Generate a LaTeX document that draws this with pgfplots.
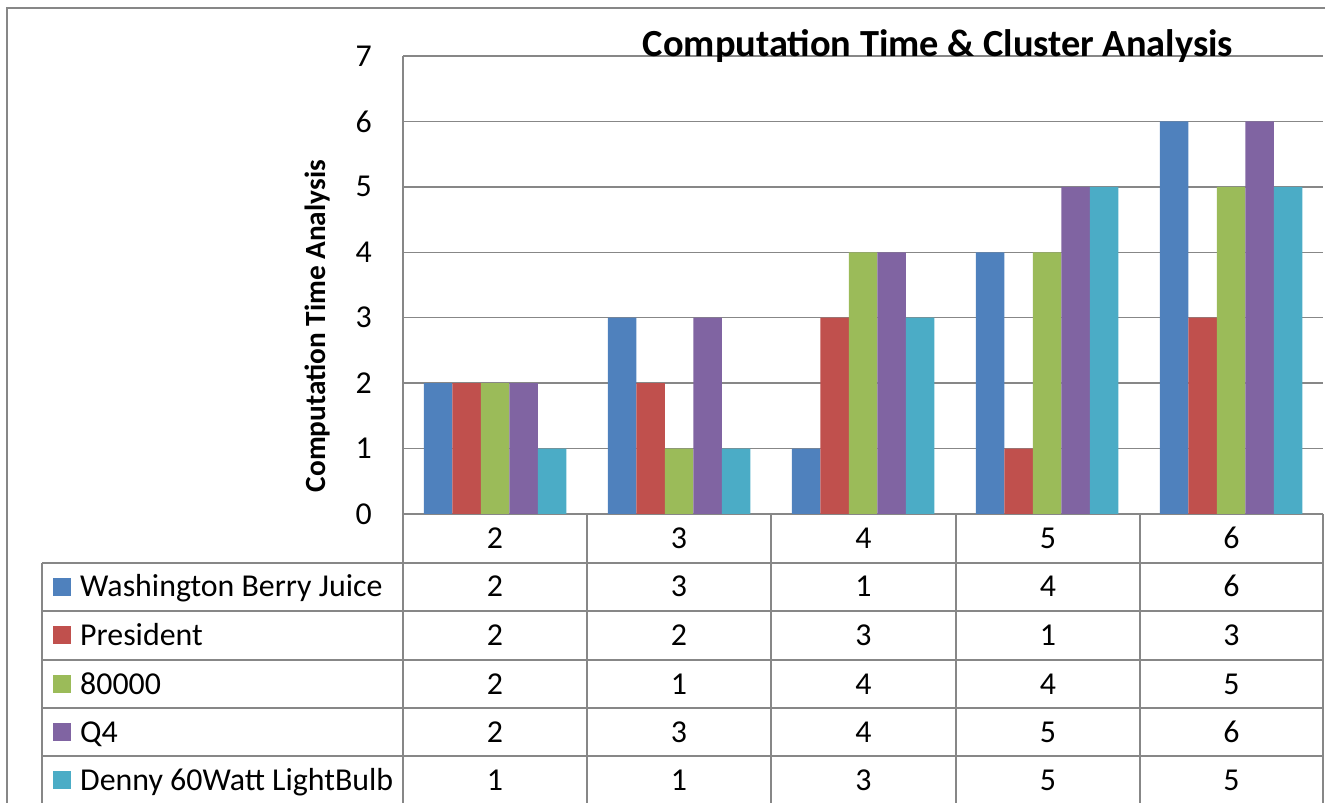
\documentclass[border=0pt]{standalone}
\usepackage{fontspec}
\setmainfont{Carlito}
\usepackage{pgfplots}
\pgfplotsset{compat=1.18}
\definecolor{s1}{HTML}{4F81BD}
\definecolor{s2}{HTML}{C0504D}
\definecolor{s3}{HTML}{9BBB59}
\definecolor{s4}{HTML}{8064A2}
\definecolor{s5}{HTML}{4BACC6}
\definecolor{gridc}{HTML}{878787}
\newcommand{\tf}{\fontsize{32}{38}\selectfont}
\begin{document}
\begin{tikzpicture}[x=1bp,y=1bp]
\path[use as bounding box] (0,0) rectangle (1325,802);
% outer frame (cut at right and bottom)
\draw[gridc, line width=1.5bp] (7,-5) -- (7,794) -- (1330,794);
\begin{axis}[
  at={(403bp,288bp)}, anchor=south west,
  scale only axis, width=920bp, height=458bp,
  xmin=-0.5, xmax=4.5, ymin=0, ymax=7,
  ybar=0pt, bar width=28.5bp,
  xtick=\empty, ytick={0,1,2,3,4,5,6,7},
  major tick length=0pt,
  ymajorgrids, grid style={gridc, line width=1.5bp},
  separate axis lines,
  axis x line*=bottom, axis y line*=left,
  axis line style={gridc, line width=1.5bp, -},
  /pgf/number format/assume math mode=true,
  yticklabel style={font=\tf, anchor=east, inner sep=0pt, xshift=-31bp},
  ylabel={\fontsize{29.4}{35}\selectfont\bfseries Computation Time Analysis},
  ylabel style={at={(axis description cs:-0.0924,0.41)}, anchor=center},
  clip=false,
]
\addplot[fill=s1, draw=none] coordinates {(0,2) (1,3) (2,1) (3,4) (4,6)};
\addplot[fill=s2, draw=none] coordinates {(0,2) (1,2) (2,3) (3,1) (4,3)};
\addplot[fill=s3, draw=none] coordinates {(0,2) (1,1) (2,4) (3,4) (4,5)};
\addplot[fill=s4, draw=none] coordinates {(0,2) (1,3) (2,4) (3,5) (4,6)};
\addplot[fill=s5, draw=none] coordinates {(0,1) (1,1) (2,3) (3,5) (4,5)};
\end{axis}
% title
\node[anchor=base, inner sep=0pt, font=\fontsize{38.5}{46}\selectfont\bfseries] at (938,745) {Computation Time \& Cluster Analysis};
% data table lines
\begin{scope}[gridc, line width=1.6bp]
\foreach \yy in {239,191,142,94,46} \draw (42,\yy) -- (1323,\yy);
\draw (42,239) -- (42,-5);
\draw (403,288) -- (403,-5);
\foreach \xx in {587,771,956,1140,1323} \draw (\xx,288) -- (\xx,-5);
\end{scope}
% header row
\foreach \v/\xx in {2/495,3/679,4/863.5,5/1048,6/1231.5}
  \node[anchor=base, inner sep=0pt, font=\tf] at (\xx,253.5) {\v};
% rows
\newcommand{\tabrow}[8]{%
  \fill[#2] (53,{#1+1}) rectangle (71,{#1+19});
  \node[anchor=base west, inner sep=0pt, font=\tf] at (80,#1) {#3};
  \node[anchor=base, inner sep=0pt, font=\tf] at (495,#1) {#4};
  \node[anchor=base, inner sep=0pt, font=\tf] at (679,#1) {#5};
  \node[anchor=base, inner sep=0pt, font=\tf] at (863.5,#1) {#6};
  \node[anchor=base, inner sep=0pt, font=\tf] at (1048,#1) {#7};
  \node[anchor=base, inner sep=0pt, font=\tf] at (1231.5,#1) {#8};
}
\tabrow{205}{s1}{Washington Berry Juice}{2}{3}{1}{4}{6}
\tabrow{156.5}{s2}{President}{2}{2}{3}{1}{3}
\tabrow{108}{s3}{80000}{2}{1}{4}{4}{5}
\tabrow{60}{s4}{Q4}{2}{3}{4}{5}{6}
\tabrow{12}{s5}{Denny 60Watt LightBulb}{1}{1}{3}{5}{5}
\end{tikzpicture}
\end{document}
